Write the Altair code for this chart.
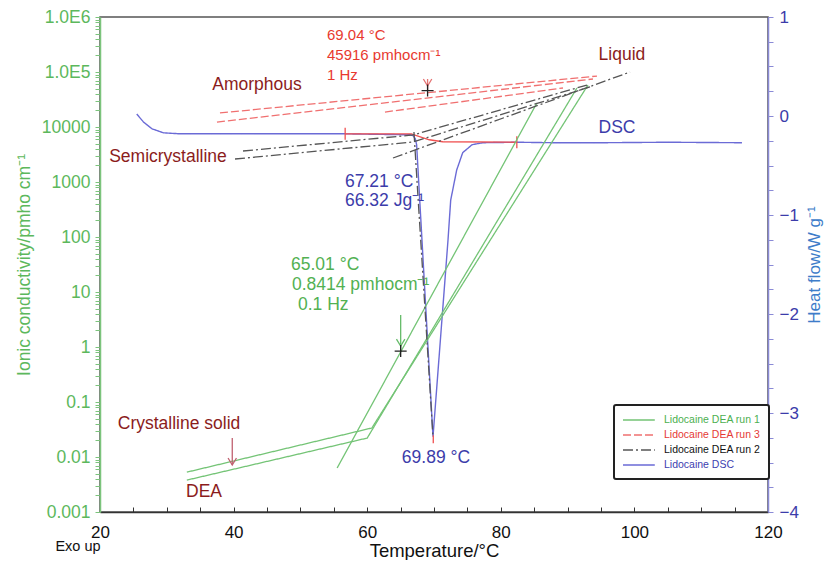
import altair as alt
import pandas as pd

# ---------------- series definitions ----------------
SERIES = ["Lidocaine DEA run 1", "Lidocaine DEA run 3", "Lidocaine DEA run 2", "Lidocaine DSC"]
LINE_COLORS = ["#74c476", "#f07070", "#555555", "#6b6bd6"]
LINE_DASH = [[1, 0], [8, 3], [10, 3, 2, 3], [1, 0]]
LABEL_COLORS = ["#4caf50", "#e53935", "#111111", "#4040b0"]

# DEA run 1 (green) : temperature (°C) / ionic conductivity (pmho cm-1)
run1_a_T = [33.0, 60.7, 93.05]
run1_a_v = [0.0053, 0.0337, 58000]
run1_b_T = [33.0, 60.0, 91.4]
run1_b_v = [0.0038, 0.0221, 51200]
run1_c_T = [55.5, 85.4]
run1_c_v = [0.0063, 27300]

# DEA run 3 (red dashed)
run3_a_T = [37.96, 94.4]
run3_a_v = [18000, 84500]
run3_b_T = [37.51, 93.8]
run3_b_v = [12300, 74600]
run3_c_T = [62.66, 89.31]
run3_c_v = [18700, 51200]

# DEA run 2 (black dash-dot)
run2_a_T = [41.41, 66.86, 92.9]
run2_a_v = [3660, 7160, 58000]
run2_b_T = [40.21, 66.86, 93.35]
run2_b_v = [2620, 5340, 53400]
run2_c_T = [63.86, 99.34]
run2_c_v = [2730, 100000]
run2_d_T = [67.0, 69.85]
run2_d_v = [8110, 0.0231]

# DSC (heat flow W/g)
dsc_T = [25.5, 26.5, 27.8, 29.5, 32.0, 42.5, 56.7, 66.4, 66.9, 67.2, 67.4, 69.85,
         72.1, 72.5, 73.4, 74.3, 75.7, 77.3, 82.4, 88.0, 95.0, 105.0, 116.1]
dsc_h = [0.02, -0.06, -0.13, -0.17, -0.18, -0.18, -0.18, -0.19, -0.20, -0.23, -0.29, -3.24,
         -1.25, -0.85, -0.545, -0.37, -0.29, -0.27, -0.265, -0.27, -0.27, -0.265, -0.27]

# DSC integration baseline (red)
base_T = [56.7, 66.6, 69.3, 71.3, 82.4]
base_h = [-0.18, -0.18, -0.24, -0.26, -0.265]
tick_T = [56.7, 82.4, 69.89]
tick_h = [-0.18, -0.265, -3.265]

# annotations (left aligned)
tl_text = ["69.04 °C", "45916 pmhocm⁻¹", "1 Hz", "67.21 °C", "66.32 Jg⁻¹",
           "65.01 °C", "0.8414 pmhocm⁻¹", "0.1 Hz"]
tl_T = [53.98, 53.98, 53.98, 56.68, 56.68, 48.59, 48.74, 49.64]
tl_v = [471000, 203700, 88100, 1020, 460, 31.0, 13.4, 5.8]
tl_c = ["#e8392f"] * 3 + ["#3c3caa"] * 2 + ["#52b152"] * 3
tl_s = [15, 15, 15, 17.5, 17.5, 17.5, 17.5, 17.5]

# annotations (centred)
tc_text = ["Amorphous", "Liquid", "DSC", "Semicrystalline", "69.89 °C", "Crystalline solid", "DEA"]
tc_T = [43.5, 98.14, 97.4, 30.18, 70.3, 31.83, 35.57]
tc_v = [58100, 203700, 9600, 2850, 0.0096, 0.0398, 0.00231]
tc_c = ["#8b1c1c", "#8b1c1c", "#3c3caa", "#8b1c1c", "#3c3caa", "#8b1c1c", "#8b1c1c"]

# arrows and crosses
ar_T = [69.04, 65.01, 39.8]
ar_top = [74600, 3.82, 0.0221]
ar_bot = [45916, 0.8414, 0.00716]
ar_tip = [55600, 1.04, 0.00716]
ar_c = ["#e57373", "#66bb6a", "#c06070"]
cross_T = [69.04, 65.01]
cross_v = [45916, 0.8414]

# axis ticks
x_ticks = list(range(20, 125, 5))
y_ticks = [m * 10.0 ** e for e in range(-3, 6) for m in range(1, 10)] + [1e6]
h_ticks = [i / 4 for i in range(-16, 5)]

# ---------------- data frames ----------------
rows = []
def add(series, seg, Ts, vs):
    for i, (t, v) in enumerate(zip(Ts, vs)):
        rows.append({"series": series, "seg": seg, "i": i, "T": t, "v": v})

add(SERIES[0], "1a", run1_a_T, run1_a_v)
add(SERIES[0], "1b", run1_b_T, run1_b_v)
add(SERIES[0], "1c", run1_c_T, run1_c_v)
add(SERIES[1], "3a", run3_a_T, run3_a_v)
add(SERIES[1], "3b", run3_b_T, run3_b_v)
add(SERIES[1], "3c", run3_c_T, run3_c_v)
add(SERIES[2], "2a", run2_a_T, run2_a_v)
add(SERIES[2], "2b", run2_b_T, run2_b_v)
add(SERIES[2], "2c", run2_c_T, run2_c_v)
add(SERIES[2], "2d", run2_d_T, run2_d_v)
dea = pd.DataFrame(rows)

dsc = pd.DataFrame({"series": SERIES[3], "i": range(len(dsc_T)), "T": dsc_T, "h": dsc_h})
base = pd.DataFrame({"i": range(len(base_T)), "T": base_T, "h": base_h})
ticks = pd.DataFrame({"T": tick_T, "h": tick_h, "c": ["#f05050"] * 3, "s": [144, 144, 64]})

tl = pd.DataFrame({"t": tl_text, "T": tl_T, "v": tl_v, "c": tl_c, "s": tl_s})
tc = pd.DataFrame({"t": tc_text, "T": tc_T, "v": tc_v, "c": tc_c})
arrows = pd.DataFrame({"T": ar_T, "v": ar_top, "v2": ar_bot, "tip": ar_tip, "c": ar_c})
crosses = pd.DataFrame({"T": cross_T, "v": cross_v})

# ---------------- encodings ----------------
label_expr_color = (
    "datum.value == '%s' ? '%s' : datum.value == '%s' ? '%s' : datum.value == '%s' ? '%s' : '%s'"
    % (SERIES[0], LABEL_COLORS[0], SERIES[1], LABEL_COLORS[1], SERIES[3], LABEL_COLORS[3], LABEL_COLORS[2])
)

legend = alt.Legend(
    title=None, orient="none", legendX=514, legendY=388,
    symbolType="M-1,0L4.3,0", symbolSize=144, symbolStrokeWidth=1.6,
    symbolFillColor="transparent",
    labelFontSize=10.5, labelColor={"expr": label_expr_color}, labelLimit=300,
    rowPadding=2, labelOffset=28, padding=8,
    strokeColor="#222222", fillColor="white", cornerRadius=2,
)
color_enc = alt.Color("series:N", scale=alt.Scale(domain=SERIES, range=LINE_COLORS), legend=legend)
dash_enc = alt.StrokeDash("series:N", scale=alt.Scale(domain=SERIES, range=LINE_DASH), legend=legend)

x_axis = alt.Axis(
    values=x_ticks, labelExpr="datum.value % 20 == 0 ? datum.label : ''",
    title="Temperature/°C", titleFontSize=18.5, titleFontWeight="normal", titleColor="#111",
    titleY=38, titleBaseline="middle", labelFlush=False,
    labelFontSize=17, labelColor="#111", labelPadding=17, tickSize={"expr": "-5"}, tickColor="#333",
    domainColor="#333", domainWidth=1.5, labelOverlap=False,
)
x_enc = alt.X("T:Q", scale=alt.Scale(domain=[20, 120], nice=False, zero=False), axis=x_axis)

left_axis = alt.Axis(
    orient="left", values=y_ticks, labelFlush=False,
    labelExpr=("abs(log(datum.value)/LN10 - round(log(datum.value)/LN10)) > 0.001 ? '' : "
               "datum.value > 5e5 ? '1.0E6' : datum.value > 5e4 ? '1.0E5' : format(datum.value, '~g')"),
    labelFontSize=17.5, labelColor="#5cb85c", tickColor="#7cc47c", tickSize=5,
    domainColor="#7cc47c", domainWidth=1.5, labelOverlap=False, labelPadding=5,
    title="Ionic conductivity/pmho cm⁻¹", titleColor="#5cb85c", titleFontSize=17.5,
    titleFontWeight="normal", titlePadding=8,
)
y_left = alt.Y("v:Q", scale=alt.Scale(type="log", domain=[0.001, 1e6], nice=False), axis=left_axis)

right_axis = alt.Axis(
    orient="right", values=h_ticks, labelFlush=False,
    labelExpr="datum.value == round(datum.value) ? format(datum.value, 'd') : ''",
    labelFontSize=17, labelColor="#3c3caa", tickColor="#8a8ad6", tickSize=5,
    domainColor="#8a8ad6", domainWidth=1.5, labelOverlap=False, labelPadding=6,
    title="Heat flow/W g⁻¹", titleColor="#3d7cc9", titleFontSize=17, titleFontWeight="normal",
    titleAngle=270, titleBaseline="top", titlePadding=8,
)
y_right = alt.Y("h:Q", scale=alt.Scale(domain=[-4, 1], nice=False, zero=False), axis=right_axis)

# ---------------- right (DSC) group ----------------
dsc_line = alt.Chart(dsc).mark_line(strokeWidth=1.4).encode(
    x=x_enc, y=y_right, color=color_enc, strokeDash=dash_enc, order="i:Q")
base_line = alt.Chart(base).mark_line(strokeWidth=1.3, color="#f05050").encode(
    x=x_enc, y=y_right, order="i:Q")
base_ticks = alt.Chart(ticks).mark_point(
    shape="M0,-1L0,1", filled=False, strokeWidth=1.3, opacity=1).encode(
    x=x_enc, y=y_right, stroke=alt.Stroke("c:N", scale=None),
    size=alt.Size("s:Q", scale=None))
right_group = alt.layer(dsc_line, base_line, base_ticks)

# ---------------- left (DEA) group ----------------
dea_lines = alt.Chart(dea).mark_line(strokeWidth=1.3).encode(
    x=x_enc, y=y_left, color=color_enc, strokeDash=dash_enc, detail="seg:N", order="i:Q")
shafts = alt.Chart(arrows).mark_rule(strokeWidth=1.3).encode(
    x=x_enc, y=y_left, y2="v2:Q", stroke=alt.Stroke("c:N", scale=None))
heads = alt.Chart(arrows).mark_point(
    shape="M-0.6,-1L0,0L0.6,-1", filled=False, size=196, strokeWidth=1.3, opacity=1).encode(
    x=x_enc, y=alt.Y("tip:Q", scale=alt.Scale(type="log", domain=[0.001, 1e6], nice=False)),
    stroke=alt.Stroke("c:N", scale=None))
cross_marks = alt.Chart(crosses).mark_point(
    shape="M-1,0L1,0M0,-1L0,1", filled=False, size=144, strokeWidth=1.3, color="#222", opacity=1).encode(
    x=x_enc, y=y_left)
text_left = alt.Chart(tl).mark_text(align="left", baseline="middle").encode(
    x=x_enc, y=y_left, text="t:N", fill=alt.Fill("c:N", scale=None),
    size=alt.Size("s:Q", scale=None))
text_center = alt.Chart(tc).mark_text(align="center", baseline="middle", fontSize=17.5).encode(
    x=x_enc, y=y_left, text="t:N", fill=alt.Fill("c:N", scale=None))
exo = alt.Chart(pd.DataFrame({"t": ["Exo up"]})).mark_text(
    align="center", baseline="middle", fontSize=14.5, color="#111").encode(
    x=alt.value(-22), y=alt.value(530), text="t:N")
left_group = alt.layer(dea_lines, shafts, heads, cross_marks, text_left, text_center, exo)

chart = (
    alt.layer(right_group, left_group)
    .resolve_scale(y="independent")
    .properties(
        width=668, height=495,
        padding={"left": 92, "top": 9, "right": 59, "bottom": 48},
        autosize=alt.AutoSizeParams(type="none"),
    )
    .configure(font="Liberation Sans")
    .configure_view(stroke="#555555", strokeWidth=1.5)
    .configure_axis(grid=False)
)

try:
    trial = chart.configure_legend(strokeWidth=2)
    trial.to_dict()
    chart = trial
except Exception:
    pass

chart.save("out.html", embed_options={"renderer": "svg", "actions": False})
